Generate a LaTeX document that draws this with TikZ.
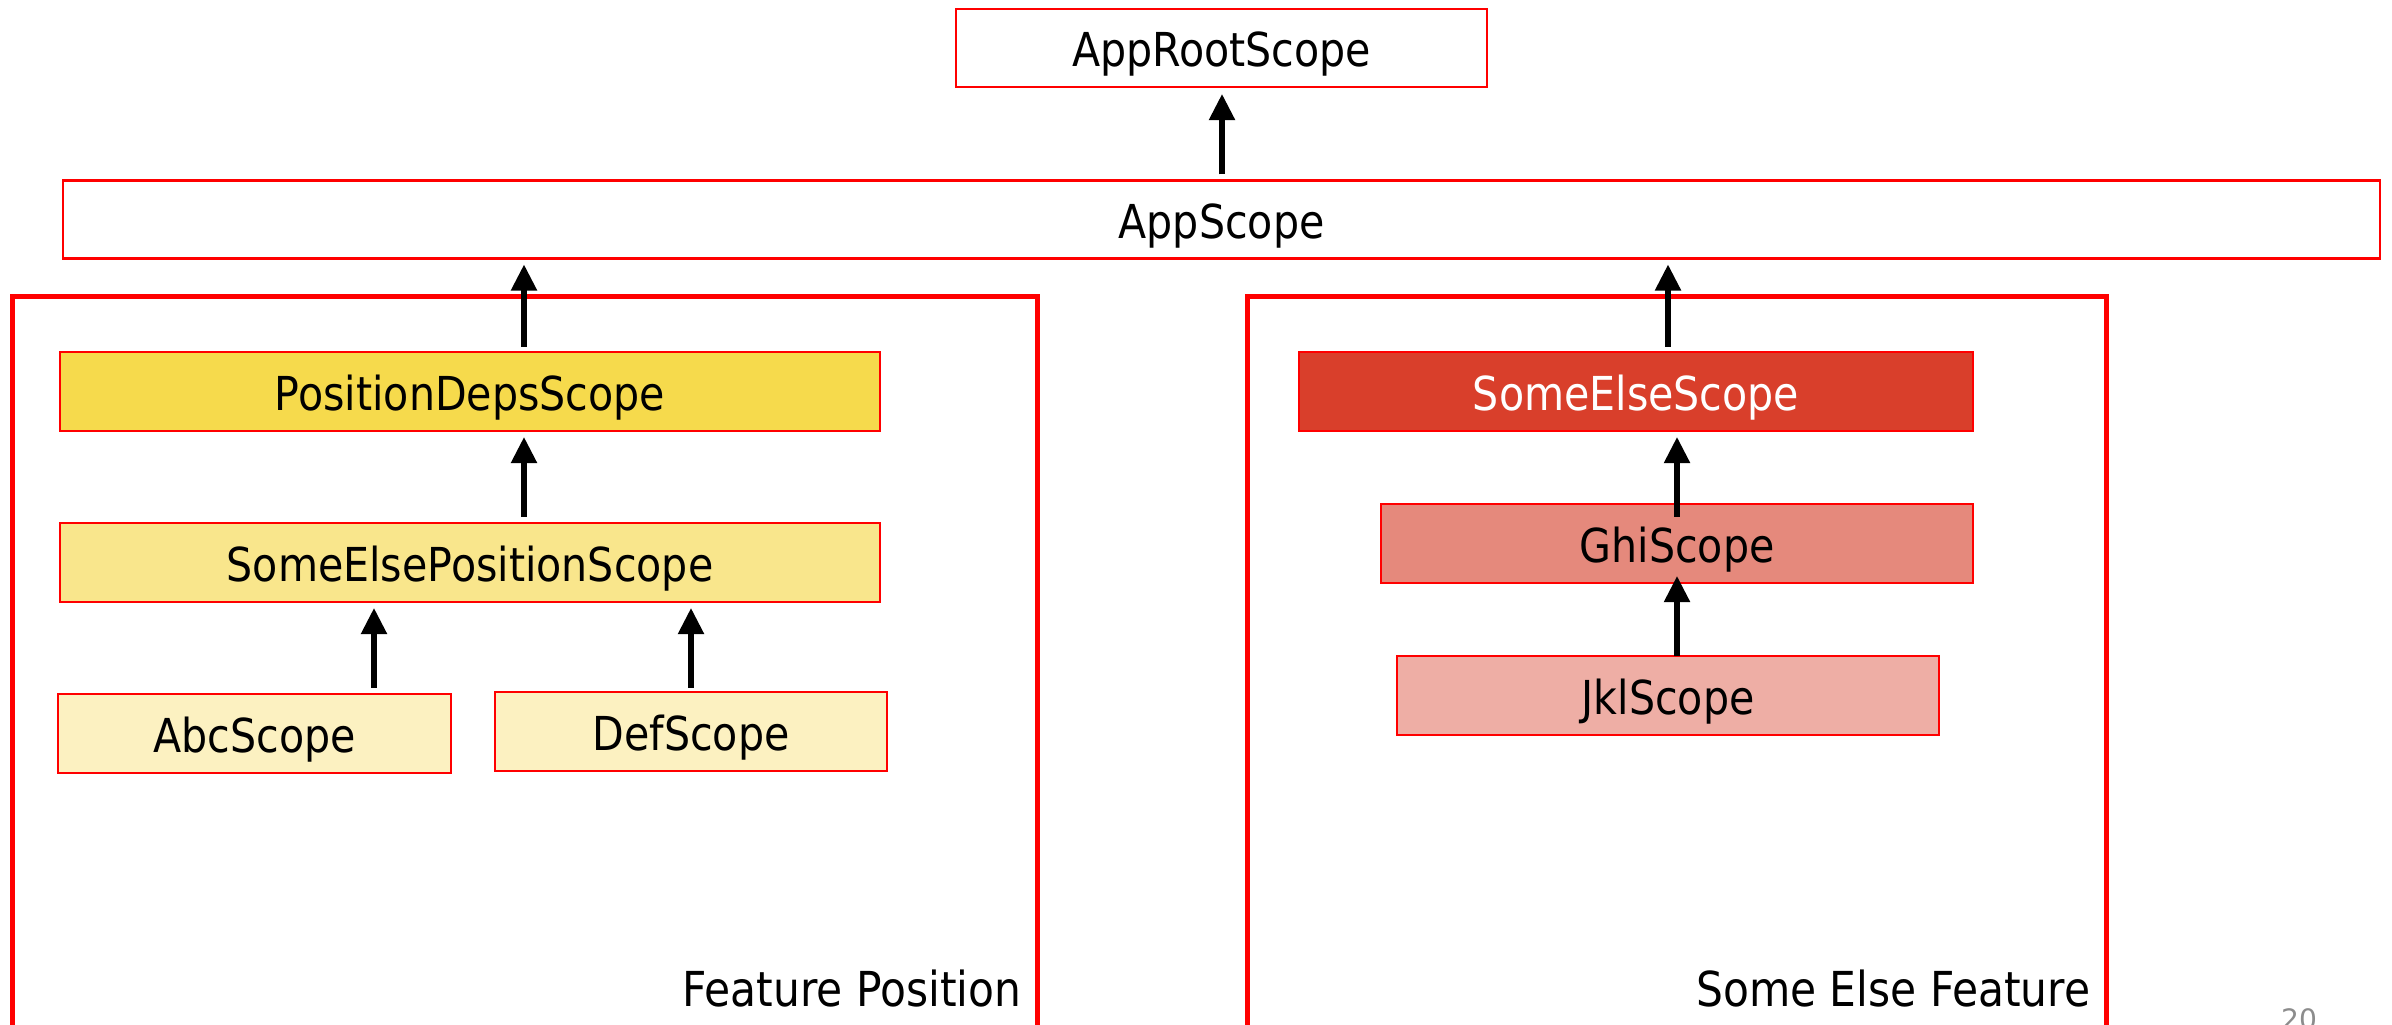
\documentclass[tikz,border=0pt]{standalone}
\usepackage{fontspec}
\setmainfont{DejaVu Sans}
\newfontfamily\lblfont[FakeStretch=0.88]{DejaVu Sans}
\usetikzlibrary{arrows.meta}

\definecolor{scopeRed}{HTML}{FF0000}
\definecolor{depsYellow}{HTML}{F6DA4C}
\definecolor{midYellow}{HTML}{F9E68C}
\definecolor{paleYellow}{HTML}{FCF1C1}
\definecolor{deepRed}{HTML}{D93F2B}
\definecolor{midRed}{HTML}{E5897C}
\definecolor{paleRed}{HTML}{EEAEA5}
\definecolor{pageGray}{HTML}{8C8C8C}

\begin{document}
\begin{tikzpicture}[x=0.01cm, y=-0.01cm,
  scopebox/.style={draw=scopeRed, line width=0.65pt, inner sep=0pt, outer sep=0pt,
    text height=0.37cm, text depth=0cm,
    font=\lblfont\fontsize{13.3}{15}\selectfont},
  featurebox/.style={draw=scopeRed, line width=1.35pt, inner sep=0pt, outer sep=0pt},
  featurelabel/.style={anchor=base east, inner sep=0pt,
    font=\lblfont\fontsize{13.7}{16}\selectfont},
  dep/.style={-{Triangle[width=0.25cm,length=0.26cm]}, line width=1.5pt},
]
\useasboundingbox (0,0) rectangle (2392,1025);

% feature groups (open at the bottom edge of the page)
\node[featurebox, minimum width=10.24cm, minimum height=7.5cm] (featPos) at (525,672) {};
\node[featurebox, minimum width=8.58cm, minimum height=7.5cm] (featElse) at (1677,672) {};
\node[featurelabel] (featPosLabel) at (1022,1006) {Feature Position};
\node[featurelabel] (featElseLabel) at (2091,1006) {Some Else Feature};

% application-level scopes
\node[scopebox, fill=white, minimum width=5.31cm, minimum height=0.78cm] (root) at (1221.5,48) {AppRootScope};
\node[scopebox, fill=white, minimum width=23.15cm, minimum height=0.78cm] (app) at (1221.5,219.5) {AppScope};

% position feature scopes
\node[scopebox, fill=depsYellow, minimum width=8.2cm, minimum height=0.79cm] (pds) at (470,391.5) {PositionDepsScope};
\node[scopebox, fill=midYellow, minimum width=8.2cm, minimum height=0.79cm] (sep) at (470,562.5) {SomeElsePositionScope};
\node[scopebox, fill=paleYellow, minimum width=3.93cm, minimum height=0.79cm] (abc) at (254.5,733.5) {AbcScope};
\node[scopebox, fill=paleYellow, minimum width=3.92cm, minimum height=0.79cm] (def) at (691,731.5) {DefScope};

% some-else feature scopes
\node[scopebox, fill=deepRed, text=white, minimum width=6.74cm, minimum height=0.79cm] (sesc) at (1636,391.5) {SomeElseScope};
\node[scopebox, fill=midRed, minimum width=5.92cm, minimum height=0.79cm] (ghi) at (1677,543.5) {GhiScope};
\node[scopebox, fill=paleRed, minimum width=5.42cm, minimum height=0.79cm] (jkl) at (1668,695.5) {JklScope};

% arrow columns
\coordinate (colRoot) at (1222,0);
\coordinate (colPos) at (524,0);
\coordinate (colAbc) at (374,0);
\coordinate (colDef) at (691,0);
\coordinate (colElse) at (1668,0);
\coordinate (colGhi) at (1677,0);

% dependencies
\draw[dep, shorten <=0.06cm, shorten >=0.07cm] (app.north -| colRoot) -- (root.south -| colRoot);
\draw[dep, shorten <=0.05cm, shorten >=0.06cm] (pds.north -| colPos) -- (app.south -| colPos);
\draw[dep, shorten <=0.06cm, shorten >=0.06cm] (sep.north -| colPos) -- (pds.south -| colPos);
\draw[dep, shorten <=0.06cm, shorten >=0.06cm] (abc.north -| colAbc) -- (sep.south -| colAbc);
\draw[dep, shorten <=0.04cm, shorten >=0.06cm] (def.north -| colDef) -- (sep.south -| colDef);
\draw[dep, shorten <=0.05cm, shorten >=0.06cm] (sesc.north -| colElse) -- (app.south -| colElse);
\draw[dep, shorten <=-0.13cm, shorten >=0.06cm] (ghi.north -| colGhi) -- (sesc.south -| colGhi);
\draw[dep, shorten >=-0.07cm] (jkl.north -| colGhi) -- (ghi.south -| colGhi);

% page number
\node[anchor=base, inner sep=0pt, text=pageGray, font=\fontsize{8}{10}\selectfont] (pageNum) at (2299,1029) {20};
\end{tikzpicture}
\end{document}
